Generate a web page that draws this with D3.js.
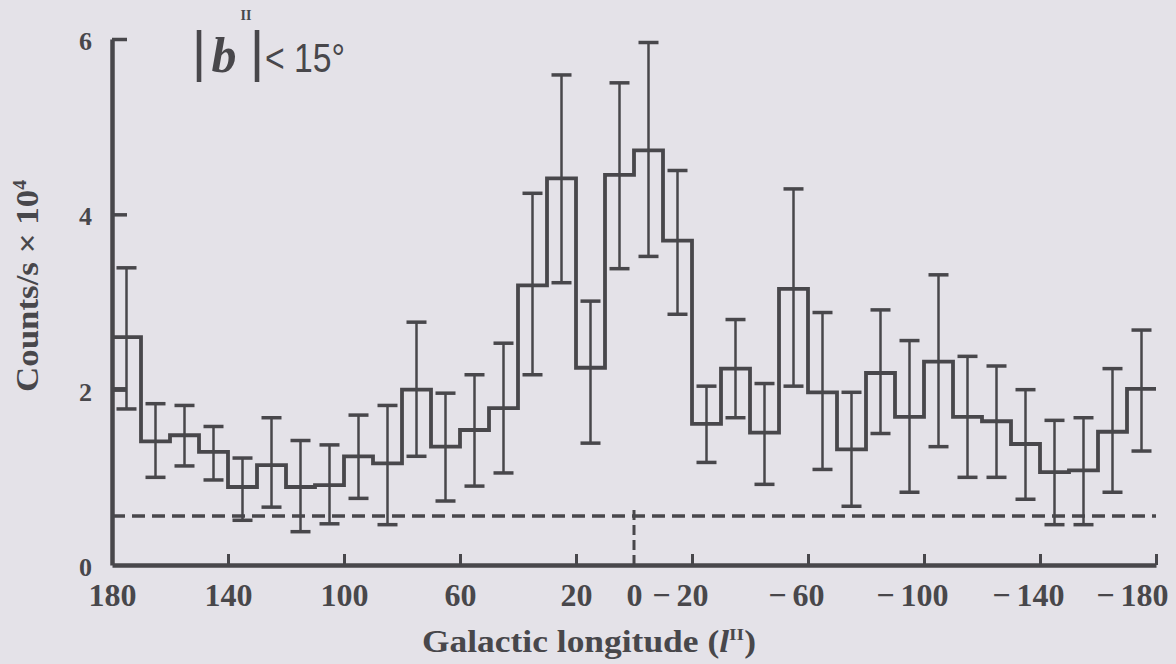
<!DOCTYPE html>
<html>
<head>
<meta charset="utf-8">
<script src="https://cdn.jsdelivr.net/npm/d3@7"></script>
<style>
  body { margin: 0; background: #e4e2e8; }
  svg { display: block; }
</style>
</head>
<body>
<div id="chart"></div>
<script>
var width = 1176,
    height = 664

// data: 10 degree bins, galactic longitude from 180 down to -180
var lonStart = [180, 170, 160, 150, 140, 130, 120, 110, 100, 90, 80, 70, 60, 50, 40, 30, 20, 10,
                0, -10, -20, -30, -40, -50, -60, -70, -80, -90, -100, -110, -120, -130, -140, -150, -160, -170]
var counts = [2.60, 1.41, 1.48, 1.29, 0.89, 1.14, 0.89, 0.91, 1.24, 1.16, 2.00, 1.35, 1.54, 1.79, 3.19, 4.41, 2.25, 4.45,
              4.73, 3.70, 1.61, 2.24, 1.51, 3.15, 1.97, 1.32, 2.19, 1.69, 2.32, 1.69, 1.64, 1.38, 1.06, 1.08, 1.52, 2.01]
var errLow = [1.78, 1.00, 1.13, 0.97, 0.51, 0.66, 0.38, 0.47, 0.76, 0.46, 1.24, 0.73, 0.90, 1.05, 2.17, 3.22, 1.39, 3.38,
              3.52, 2.86, 1.17, 1.68, 0.92, 2.04, 1.09, 0.67, 1.50, 0.83, 1.35, 1.00, 1.00, 0.75, 0.46, 0.46, 0.83, 1.30]
var errHigh = [3.39, 1.84, 1.82, 1.58, 1.22, 1.68, 1.42, 1.37, 1.71, 1.82, 2.77, 1.96, 2.17, 2.53, 4.24, 5.59, 3.01, 5.50,
               5.96, 4.50, 2.04, 2.80, 2.07, 4.29, 2.88, 1.97, 2.91, 2.56, 3.31, 2.38, 2.27, 2.00, 1.65, 1.68, 2.24, 2.68]
var xTicks = [180, 140, 100, 60, 20, 0, -20, -60, -100, -140, -180]
var yTicks = [0, 2, 4, 6]
var background = 0.56

var ink = "#48474b"
var serif = "'Liberation Serif', 'Times New Roman', serif"
var sans = "'Liberation Sans', sans-serif"

var svg = d3.select("#chart")
    .append("svg")
    .attr("width", width)
    .attr("height", height)

svg.append("rect").attr("width", width).attr("height", height).attr("fill", "#e4e2e8")

var x = d3.scaleLinear().domain([180, -180]).range([112, 1156])
var y = d3.scaleLinear().domain([0, 6]).range([565, 39])

// dashed background level
svg.append("line")
    .attr("x1", x(180)).attr("x2", x(-180))
    .attr("y1", y(background)).attr("y2", y(background))
    .attr("stroke", ink).attr("stroke-width", 3.5)
    .attr("stroke-dasharray", "13,7")

// short dashed mark at l = 0
svg.append("line")
    .attr("x1", x(0)).attr("x2", x(0))
    .attr("y1", y(0)).attr("y2", y(0.65))
    .attr("stroke", ink).attr("stroke-width", 3)
    .attr("stroke-dasharray", "10,5")

// error bars
var bars = svg.append("g")
lonStart.forEach(function(l, i) {
  var cx = x(l - 5)
  bars.append("line").attr("x1", cx).attr("x2", cx)
      .attr("y1", y(errLow[i])).attr("y2", y(errHigh[i]))
      .attr("stroke", ink).attr("stroke-width", 2.5)
  bars.append("line").attr("x1", cx - 10).attr("x2", cx + 10)
      .attr("y1", y(errLow[i])).attr("y2", y(errLow[i]))
      .attr("stroke", ink).attr("stroke-width", 3.5)
  bars.append("line").attr("x1", cx - 10).attr("x2", cx + 10)
      .attr("y1", y(errHigh[i])).attr("y2", y(errHigh[i]))
      .attr("stroke", ink).attr("stroke-width", 3.5)
})

// histogram steps
var pts = lonStart.map(function(l, i) { return [l, counts[i]] })
pts.push([-180, counts[counts.length - 1]])
var step = d3.line()
    .x(function(d) { return x(d[0]) })
    .y(function(d) { return y(d[1]) })
    .curve(d3.curveStepAfter)
svg.append("path").attr("d", step(pts))
    .attr("fill", "none").attr("stroke", ink).attr("stroke-width", 3.8)

// wrap-around piece of the last bin drawn at the left edge
svg.append("line")
    .attr("x1", x(180)).attr("x2", x(175))
    .attr("y1", y(counts[counts.length - 1])).attr("y2", y(counts[counts.length - 1]))
    .attr("stroke", ink).attr("stroke-width", 3.5)

// y axis
var yAxis = svg.append("g")
    .attr("transform", "translate(" + x(180) + ",0)")
    .call(d3.axisLeft(y).tickValues(yTicks).tickFormat(d3.format("d"))
      .tickSize(-15).tickSizeOuter(0).tickPadding(20))
yAxis.select(".domain").attr("stroke", ink).attr("stroke-width", 4.5)
yAxis.selectAll(".tick line").attr("stroke", ink).attr("stroke-width", 3.5)
yAxis.selectAll(".tick").filter(function(d) { return d === 0 }).select("line").remove()
yAxis.selectAll(".tick text")
    .attr("fill", ink).attr("font-family", serif).attr("font-weight", "bold")
    .attr("font-size", 26).attr("dy", "0.4em")

// x axis
var xAxis = svg.append("g")
    .attr("transform", "translate(0," + y(0) + ")")
    .call(d3.axisBottom(x).tickValues(xTicks).tickSize(-11).tickSizeOuter(0).tickPadding(18)
      .tickFormat(function(d) { return Math.abs(d) }))
xAxis.select(".domain").attr("stroke", ink).attr("stroke-width", 4.5)
xAxis.selectAll(".tick line").attr("stroke", ink).attr("stroke-width", 3)
xAxis.selectAll(".tick").filter(function(d) { return d === 180 || d === 0 }).select("line").remove()
xAxis.selectAll(".tick text")
    .attr("fill", ink).attr("font-family", serif).attr("font-weight", "bold")
    .attr("font-size", 32)
xAxis.selectAll(".tick").each(function(d) {
  var g = d3.select(this)
  var t = g.select("text")
  var w = t.node().getComputedTextLength()
  var shift = 0
  if (x(d) + w / 2 > width - 8) shift = width - 8 - (x(d) + w / 2)
  t.attr("x", shift)
  if (d < 0) {
    g.append("text")
        .attr("x", shift - w / 2 - 6).attr("y", t.attr("y")).attr("dy", t.attr("dy"))
        .attr("text-anchor", "end")
        .attr("fill", ink).attr("font-family", serif).attr("font-weight", "bold")
        .attr("font-size", 32)
        .text("\u2212")
  }
})

// axis titles
svg.append("text")
    .attr("transform", "translate(38,286) rotate(-90)")
    .attr("text-anchor", "middle")
    .attr("fill", ink).attr("font-family", serif).attr("font-weight", "bold")
    .attr("font-size", 32)
    .attr("textLength", 212).attr("lengthAdjust", "spacingAndGlyphs")
    .text("Counts/s \u00d7 10")
    .append("tspan").attr("dy", -12).attr("font-size", 18).text("4")

var xt = svg.append("text")
    .attr("x", 589).attr("y", 652)
    .attr("text-anchor", "middle")
    .attr("fill", ink).attr("font-family", serif).attr("font-weight", "bold")
    .attr("font-size", 31)
    .attr("textLength", 334).attr("lengthAdjust", "spacingAndGlyphs")
xt.append("tspan").text("Galactic longitude (")
xt.append("tspan").attr("font-style", "italic").text("l")
xt.append("tspan").attr("dy", -12).attr("font-size", 17).text("II")
xt.append("tspan").attr("dy", 12).text(")")

// latitude cut annotation
var note = svg.append("g").attr("fill", ink)
note.append("text").attr("x", 199).attr("y", 70).attr("text-anchor", "middle")
    .attr("font-family", sans).attr("font-size", 56).text("|")
note.append("text").attr("x", 224).attr("y", 72).attr("text-anchor", "middle")
    .attr("font-family", serif).attr("font-style", "italic").attr("font-weight", "bold")
    .attr("font-size", 50).text("b")
note.append("text").attr("x", 246).attr("y", 20).attr("text-anchor", "middle")
    .attr("font-family", serif).attr("font-weight", "bold")
    .attr("font-size", 14).text("II")
note.append("text").attr("x", 257).attr("y", 70).attr("text-anchor", "middle")
    .attr("font-family", sans).attr("font-size", 56).text("|")
note.append("text").attr("x", 265).attr("y", 72)
    .attr("font-family", sans).attr("font-size", 40)
    .attr("textLength", 80).attr("lengthAdjust", "spacingAndGlyphs")
    .text("< 15\u00b0")
</script>
</body>
</html>
